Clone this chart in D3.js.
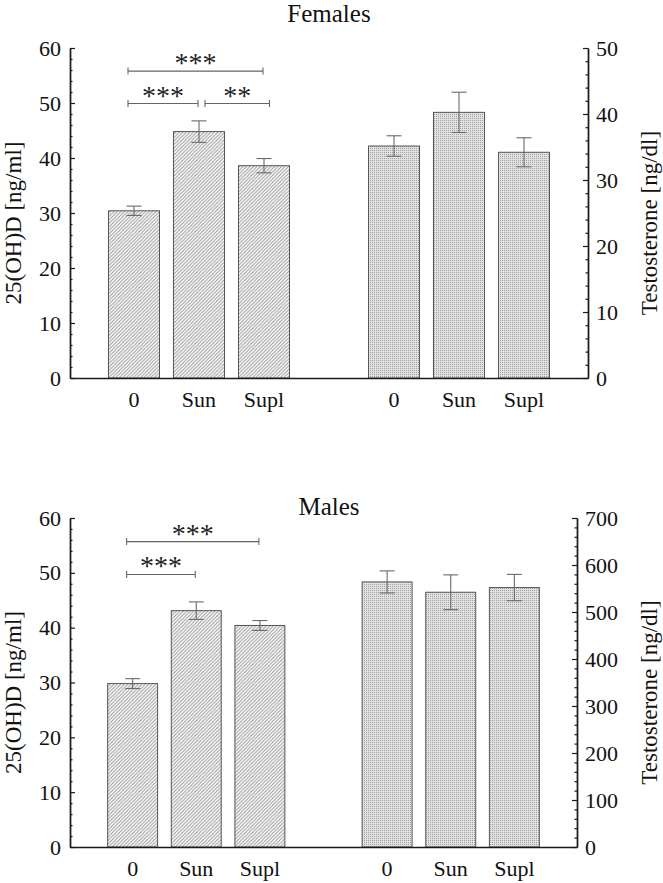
<!DOCTYPE html>
<html><head><meta charset="utf-8">
<script src="https://cdn.jsdelivr.net/npm/d3@7"></script>
<style>
body{margin:0;background:#fff;}
svg{display:block;font-family:"Liberation Serif","Times New Roman",serif;}
</style></head>
<body><svg id="chart" width="663" height="883"></svg>
<script>
// ---- data ----
const categories = ["0", "Sun", "Supl"];
const femaleVitD = [30.4, 44.8, 38.6];
const femaleVitDErr = [0.85, 1.95, 1.3];
const femaleTesto = [35.15, 40.25, 34.2];
const femaleTestoErr = [1.55, 3.05, 2.2];
const maleVitD = [29.8, 43.1, 40.4];
const maleVitDErr = [0.9, 1.6, 0.9];
const maleTesto = [564, 542, 552];
const maleTestoErr = [23.5, 37, 28];
const vitDTicks = [0, 10, 20, 30, 40, 50, 60];
const femaleTestoTicks = [0, 10, 20, 30, 40, 50];
const maleTestoTicks = [0, 100, 200, 300, 400, 500, 600, 700];
const femaleBrackets = [
  {from: 0, to: 2, y: 55.8, label: "***"},
  {from: 0, to: 1, y: 49.9, label: "***"},
  {from: 1, to: 2, y: 49.9, label: "**"}
];
const maleBrackets = [
  {from: 0, to: 2, y: 55.7, label: "***"},
  {from: 0, to: 1, y: 49.7, label: "***"}
];
const titles = ["Females", "Males"];
const leftTitle = "25(OH)D [ng/ml]";
const rightTitle = "Testosterone [ng/dl]";

// ---- drawing ----
const svg = d3.select("#chart");
const defs = svg.append("defs");
const hatch = defs.append("pattern").attr("id", "hatch")
  .attr("patternUnits", "userSpaceOnUse").attr("width", 3.5).attr("height", 3.5);
hatch.append("rect").attr("width", 3.5).attr("height", 3.5).attr("fill", "#fff");
hatch.append("path").attr("d", "M-1,1 l2,-2 M0,3.5 l3.5,-3.5 M2.5,4.5 l2,-2")
  .attr("stroke", "#959595").attr("stroke-width", 1);
const dots = defs.append("pattern").attr("id", "dots")
  .attr("patternUnits", "userSpaceOnUse").attr("width", 2).attr("height", 2);
dots.append("rect").attr("width", 2).attr("height", 2).attr("fill", "#e2e2e2");
dots.append("rect").attr("width", 1).attr("height", 1).attr("fill", "#a0a0a0");

const slots = ["L0", "L1", "L2", "gap", "R0", "R1", "R2"];

function panel(cfg) {
  const g = svg.append("g");
  const x = d3.scaleBand().domain(slots).range([cfg.x0, cfg.x1])
    .paddingInner(0.215).paddingOuter(0.592);
  const yL = d3.scaleLinear().domain([0, 60]).range([cfg.yBottom, cfg.yTop]);
  const yR = d3.scaleLinear().domain([0, d3.max(cfg.rTicks)]).range([cfg.yBottom, cfg.yTop]);

  // title
  g.append("text").attr("x", 329).attr("y", cfg.titleY)
    .attr("text-anchor", "middle").attr("font-size", 25).attr("fill", "#111").text(cfg.title);

  // bars
  const leftData = categories.map((c, i) => ({slot: "L" + i, v: cfg.lVals[i], e: cfg.lErr[i]}));
  const rightData = categories.map((c, i) => ({slot: "R" + i, v: cfg.rVals[i], e: cfg.rErr[i]}));

  function drawBars(data, y, fill) {
    g.selectAll(null).data(data).enter().append("rect")
      .attr("x", d => x(d.slot)).attr("width", x.bandwidth())
      .attr("y", d => y(d.v)).attr("height", d => y(0) - y(d.v))
      .attr("fill", fill).attr("stroke", "#555").attr("stroke-width", 1);
    const eb = g.selectAll(null).data(data).enter().append("g")
      .attr("stroke", "#6a6a6a").attr("stroke-width", 1.1).attr("fill", "none");
    const cx = d => x(d.slot) + x.bandwidth() / 2;
    eb.append("line").attr("x1", cx).attr("x2", cx)
      .attr("y1", d => y(d.v + d.e)).attr("y2", d => y(d.v - d.e));
    eb.append("line").attr("x1", d => cx(d) - 7.5).attr("x2", d => cx(d) + 7.5)
      .attr("y1", d => y(d.v + d.e)).attr("y2", d => y(d.v + d.e));
    eb.append("line").attr("x1", d => cx(d) - 7.5).attr("x2", d => cx(d) + 7.5)
      .attr("y1", d => y(d.v - d.e)).attr("y2", d => y(d.v - d.e));
  }
  drawBars(leftData, yL, "url(#hatch)");
  drawBars(rightData, yR, "url(#dots)");

  // brackets
  const center = i => x("L" + i) + x.bandwidth() / 2;
  const br = g.selectAll(null).data(cfg.brackets).enter().append("g");
  const bx1 = d => d.from === 0 ? center(d.from) - 6 : center(d.from) + 6;
  const bx2 = d => d.from === 0 ? center(d.to) - 1 : center(d.to) + 5.5;
  br.append("path")
    .attr("d", d => `M${bx1(d)},${yL(d.y) - 3.5}V${yL(d.y) + 3.5}M${bx1(d)},${yL(d.y)}H${bx2(d)}M${bx2(d)},${yL(d.y) - 3.5}V${yL(d.y) + 3.5}`)
    .attr("stroke", "#666").attr("stroke-width", 1.1).attr("fill", "none");
  br.append("text").attr("x", d => (bx1(d) + bx2(d)) / 2).attr("y", d => yL(d.y) + 1)
    .attr("text-anchor", "middle").attr("font-size", 28).attr("fill", "#222").text(d => d.label);

  // axes
  const axL = d3.axisLeft(yL).tickValues(vitDTicks).tickSize(-5).tickSizeOuter(0).tickPadding(9);
  const axLm = d3.axisLeft(yL).tickValues(d3.range(0, 61, 2).filter(v => v % 10 !== 0))
    .tickSize(-2.5).tickSizeOuter(0).tickFormat("");
  const rStep = cfg.rTicks[1] / 5;
  const rMax = d3.max(cfg.rTicks);
  const axR = d3.axisRight(yR).tickValues(cfg.rTicks).tickSize(-5).tickSizeOuter(0).tickPadding(8);
  const axRm = d3.axisRight(yR).tickValues(d3.range(0, rMax + 1e-9, rStep).filter(v => Math.abs(v / cfg.rTicks[1] - Math.round(v / cfg.rTicks[1])) > 1e-6))
    .tickSize(-2.5).tickSizeOuter(0).tickFormat("");
  const axB = d3.axisBottom(x).tickValues(["L0", "L1", "L2", "R0", "R1", "R2"])
    .tickSize(0).tickSizeOuter(0).tickPadding(13).tickFormat(s => categories[+s[1]]);

  function style(sel, fs) {
    sel.selectAll(".domain").attr("stroke", "#1a1a1a").attr("stroke-width", 1.4);
    sel.selectAll(".tick line").attr("stroke", "#1a1a1a").attr("stroke-width", 1.2);
    sel.selectAll("text").attr("font-family", "Liberation Serif, serif").attr("font-size", fs).attr("fill", "#111");
  }
  g.append("g").attr("transform", `translate(${cfg.x0},0)`).call(axLm).call(style, 19);
  g.append("g").attr("transform", `translate(${cfg.x0},0)`).call(axL).call(style, 22);
  g.append("g").attr("transform", `translate(${cfg.x1},0)`).call(axRm).call(style, 19);
  g.append("g").attr("transform", `translate(${cfg.x1},0)`).call(axR).call(style, 22);
  g.append("g").attr("transform", `translate(0,${cfg.yBottom})`).call(axB).call(style, 22);

  // axis titles
  const ym = (cfg.yTop + cfg.yBottom) / 2 + 10;
  g.append("text").attr("transform", `translate(21,${ym}) rotate(-90)`)
    .attr("text-anchor", "middle").attr("font-size", 23).attr("fill", "#111").text(leftTitle);
  g.append("text").attr("transform", `translate(657,${ym}) rotate(-90)`)
    .attr("text-anchor", "middle").attr("font-size", 23).attr("fill", "#111").text(rightTitle);
}

panel({title: titles[0], titleY: 22, x0: 70, x1: 588, yTop: 48, yBottom: 378,
  lVals: femaleVitD, lErr: femaleVitDErr, rVals: femaleTesto, rErr: femaleTestoErr,
  rTicks: femaleTestoTicks, brackets: femaleBrackets});
panel({title: titles[1], titleY: 515, x0: 70, x1: 577, yTop: 518, yBottom: 847,
  lVals: maleVitD, lErr: maleVitDErr, rVals: maleTesto, rErr: maleTestoErr,
  rTicks: maleTestoTicks, brackets: maleBrackets});
</script></body></html>
